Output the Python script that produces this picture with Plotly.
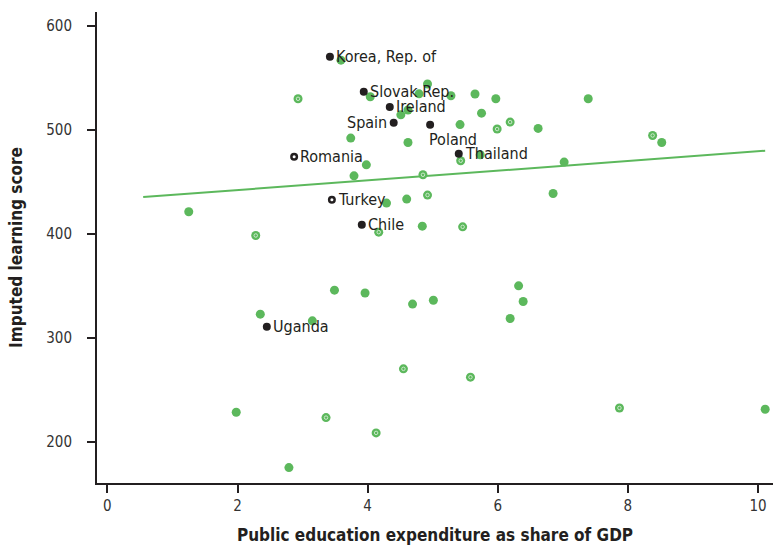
import plotly.graph_objects as go

# Countries without labels: public education spending (% of GDP) vs imputed learning score
other_x = [3.59, 4.04, 4.92, 4.79, 5.28, 5.65, 5.97, 4.51, 4.62, 5.75, 5.42, 6.62,
           3.74, 4.62, 5.73, 3.98, 3.79, 4.29, 4.60, 6.85, 7.39, 8.52, 7.02,
           6.32, 6.39, 6.19, 1.25, 4.84, 3.49, 3.96, 4.69, 5.01, 2.35, 3.15,
           1.98, 2.79, 10.11]
other_y = [567.0, 531.8, 544.0, 534.6, 532.7, 534.4, 529.8, 514.4, 519.0, 516.0, 505.0, 501.3,
           492.0, 487.8, 476.0, 466.3, 455.7, 429.5, 433.3, 438.7, 529.8, 487.8, 468.9,
           349.9, 334.8, 318.4, 421.1, 407.3, 345.7, 343.0, 332.3, 336.0, 322.6, 316.2,
           228.3, 175.0, 231.2]

# Unlabelled countries drawn with an inner ring
ring_x = [2.93, 6.19, 5.99, 5.43, 4.85, 4.92, 5.46, 2.28, 4.17, 4.55, 5.58, 3.36, 4.13, 7.87, 8.38]
ring_y = [529.8, 507.4, 500.7, 470.2, 456.7, 437.2, 406.6, 398.3, 401.5, 270.0, 262.0, 223.1, 208.4, 232.4, 494.5]

# Highlighted countries
named = ["Korea, Rep. of", "Slovak Rep.", "Ireland", "Spain", "Poland",
         "Thailand", "Romania", "Turkey", "Chile", "Uganda"]
named_x = [3.42, 3.94, 4.34, 4.40, 4.96, 5.40, 2.87, 3.45, 3.91, 2.45]
named_y = [570.3, 536.6, 522.0, 506.7, 504.8, 476.9, 474.0, 432.6, 408.6, 310.4]
ringed_named = ["Romania", "Turkey"]

# Fitted trend line
fit_x = [0.55, 10.11]
fit_y = [435.3, 479.8]

GREEN = "#5cb85c"
INK = "#231f20"
FONT = "Liberation Sans Narrow, DejaVu Sans Condensed, Roboto, sans-serif"

fig = go.Figure()

fig.add_trace(go.Scatter(
    x=fit_x, y=fit_y, mode="lines",
    line=dict(color=GREEN, width=2), hoverinfo="skip", showlegend=False))

fig.add_trace(go.Scatter(
    x=other_x + ring_x, y=other_y + ring_y, mode="markers",
    marker=dict(color=GREEN, size=9, line=dict(width=0)), showlegend=False))

fig.add_trace(go.Scatter(
    x=ring_x, y=ring_y, mode="markers",
    marker=dict(symbol="circle-open", color="#e3f3e3", size=3.5,
                line=dict(width=0.8, color="#e3f3e3")),
    hoverinfo="skip", showlegend=False))

fig.add_trace(go.Scatter(
    x=named_x, y=named_y, mode="markers", text=named,
    marker=dict(color=INK, size=8, line=dict(width=0)), showlegend=False))

rx = [x for n, x in zip(named, named_x) if n in ringed_named]
ry = [y for n, y in zip(named, named_y) if n in ringed_named]
fig.add_trace(go.Scatter(
    x=rx, y=ry, mode="markers",
    marker=dict(symbol="circle", color="white", size=3, line=dict(width=0)),
    hoverinfo="skip", showlegend=False))

# Label placement per country
placement = {
    "Spain": dict(xanchor="right", xshift=-5, yshift=0),
    "Poland": dict(xanchor="left", xshift=-3, yshift=-15),
}
for n, x, y in zip(named, named_x, named_y):
    p = placement.get(n, dict(xanchor="left", xshift=4, yshift=0))
    fig.add_annotation(
        x=x, y=y, text=n, showarrow=False,
        xanchor=p["xanchor"], yanchor="middle",
        xshift=p["xshift"], yshift=p["yshift"],
        font=dict(family=FONT, size=16, color=INK))

axis_common = dict(
    showgrid=False, zeroline=False, showline=True, linecolor=INK, linewidth=2,
    ticks="outside", ticklen=8, tickwidth=1.5, tickcolor=INK,
    tickfont=dict(family=FONT, size=15, color="#333333"),
)

fig.update_xaxes(
    range=[-0.16, 10.23], tickvals=[0, 2, 4, 6, 8, 10],
    title=dict(text="<b>Public education expenditure as share of GDP</b>",
               font=dict(family=FONT, size=17, color=INK), standoff=15),
    **axis_common)
fig.update_yaxes(
    range=[160.2, 613.3], tickvals=[200, 300, 400, 500, 600],
    ticklabelstandoff=12,
    title=dict(text="<b>Imputed learning score</b>",
               font=dict(family=FONT, size=17, color=INK), standoff=19),
    **axis_common)

fig.update_layout(
    width=773, height=549,
    margin=dict(l=97, r=0, t=12, b=66),
    plot_bgcolor="white", paper_bgcolor="white",
    font=dict(family=FONT, color=INK),
)

fig.write_html("out.html")
